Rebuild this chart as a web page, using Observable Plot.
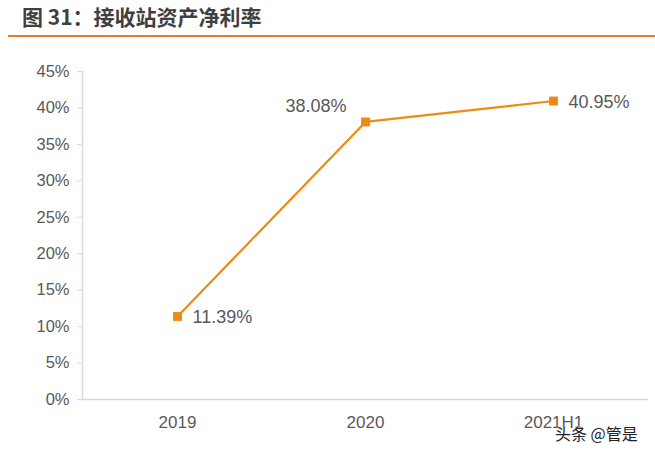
<!DOCTYPE html>
<html><head><meta charset="utf-8">
<script src="https://cdn.jsdelivr.net/npm/d3@7"></script>
<script src="https://cdn.jsdelivr.net/npm/@observablehq/plot@0.6"></script>
<style>
body{margin:0;background:#fff;width:655px;height:451px;overflow:hidden;position:relative;font-family:"Liberation Sans",Arial,sans-serif;}
#title{height:35px;margin-left:8px;border-bottom:2px solid #e8792b;box-sizing:content-box;}
#title span{position:absolute;left:22px;top:1px;font-family:"Noto Sans CJK SC",sans-serif;font-weight:bold;font-size:21px;color:#3f3f3f;}
#wm{position:absolute;left:555px;top:421px;font-family:"Noto Sans CJK SC",sans-serif;font-size:16px;color:#222;text-shadow:0 0 2px #fff,0 0 2px #fff;}
</style></head><body>
<div id="title"><span>图 31：接收站资产净利率</span></div>
<div id="chart"></div>
<div id="wm">头条 @管是</div>
<script>
const categories = ["2019", "2020", "2021H1"];
const values = [11.39, 38.08, 40.95];
const yTicks = [0, 5, 10, 15, 20, 25, 30, 35, 40, 45];
const labelSides = ["right", "left", "right"];

const data = categories.map((c, i) => ({cat: c, v: values[i], side: labelSides[i]}));
const orange = "#ee8a14";
const gray = "#595959";

const chart = Plot.plot({
  width: 655, height: 413,
  marginTop: 34, marginBottom: 51, marginLeft: 82, marginRight: 7,
  style: {fontFamily: "'Liberation Sans', Arial, sans-serif", fontSize: "16px", color: gray, background: "#fff"},
  x: {type: "point", domain: categories, padding: 0.5, label: null},
  y: {domain: [0, 45], label: null},
  marks: [
    Plot.frame({anchor: "left", stroke: "#d9d9d9", strokeWidth: 1.5}),
    Plot.ruleY([0], {stroke: "#d9d9d9", strokeWidth: 1.5}),
    Plot.axisY({ticks: yTicks, tickFormat: d => d + "%", tickSize: 5, stroke: "#d9d9d9", tickPadding: 8, fill: gray, fontSize: 16.5}),
    Plot.axisX({tickSize: 0, tickPadding: 16, fill: gray, fontSize: 17}),
    Plot.line(data, {x: "cat", y: "v", stroke: orange, strokeWidth: 2.2}),
    Plot.dot(data, {x: "cat", y: "v", symbol: "square", r: 5, fill: orange, stroke: null}),
    Plot.text(data.filter(d => d.side === "right"), {x: "cat", y: "v", text: d => d.v.toFixed(2) + "%", textAnchor: "start", dx: 15, dy: 1, fill: gray, fontSize: 18}),
    Plot.text(data.filter(d => d.side === "left"), {x: "cat", y: "v", text: d => d.v.toFixed(2) + "%", textAnchor: "end", dx: -19, dy: -16, fill: gray, fontSize: 18})
  ]
});
document.getElementById("chart").appendChild(chart);
</script>
</body></html>
